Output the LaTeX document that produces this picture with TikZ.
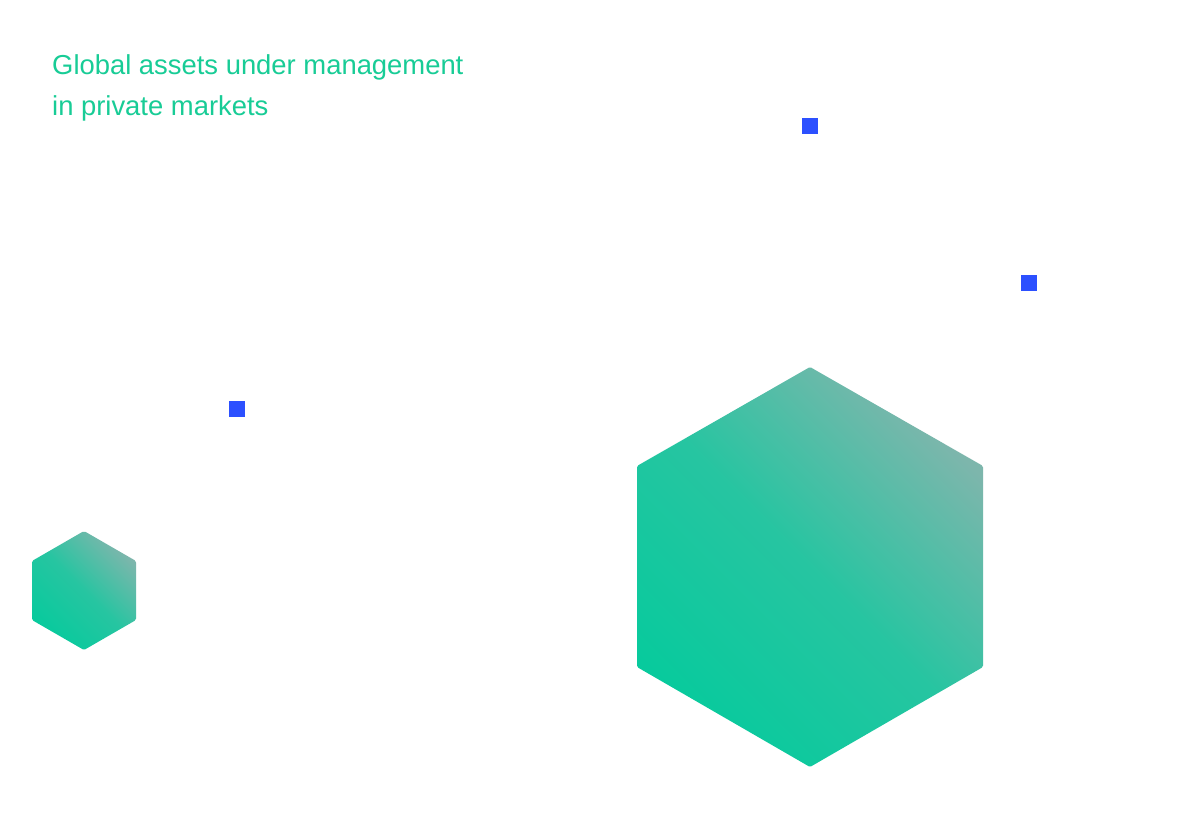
\documentclass[tikz,border=0pt]{standalone}
\usepackage{fontspec}
\setmainfont{Liberation Sans}
\definecolor{titlegreen}{RGB}{24,204,150}
\definecolor{hexgreen}{RGB}{8,202,157}
\definecolor{hexgrey}{RGB}{125,182,172}
\definecolor{dotblue}{RGB}{44,80,255}
\begin{document}
\begin{tikzpicture}[x=1pt,y=-1pt,
  titletext/.style={anchor=base west,inner sep=0pt,text=titlegreen,font=\fontsize{27.4}{33}\selectfont},
  hexfill/.style={top color=hexgrey,bottom color=hexgreen,middle color=hexgreen!74!hexgrey,shading angle=-45,draw=none,rounded corners=1.5pt},
  bluedot/.style={fill=dotblue,draw=none,minimum size=16pt,inner sep=0pt}]
\useasboundingbox (0,0) rectangle (1200,821);
\fill[white] (0,0) rectangle (1200,821);
\node[titletext] (t1) at (52,75) {Global assets under management};
\node[titletext] (t2) at (52,116) {in private markets};
% big hexagon
\shade[hexfill] (810,367) -- (983,466) -- (983,667) -- (810,767) -- (637,667) -- (637,466) -- cycle;
% small hexagon
\shade[hexfill] (84,531) -- (136,561) -- (136,620) -- (84,650) -- (32,620) -- (32,561) -- cycle;
% blue squares
\node[bluedot] (d1) at (810,126) {};
\node[bluedot] (d2) at (1029,283) {};
\node[bluedot] (d3) at (237,409) {};
\end{tikzpicture}
\end{document}
